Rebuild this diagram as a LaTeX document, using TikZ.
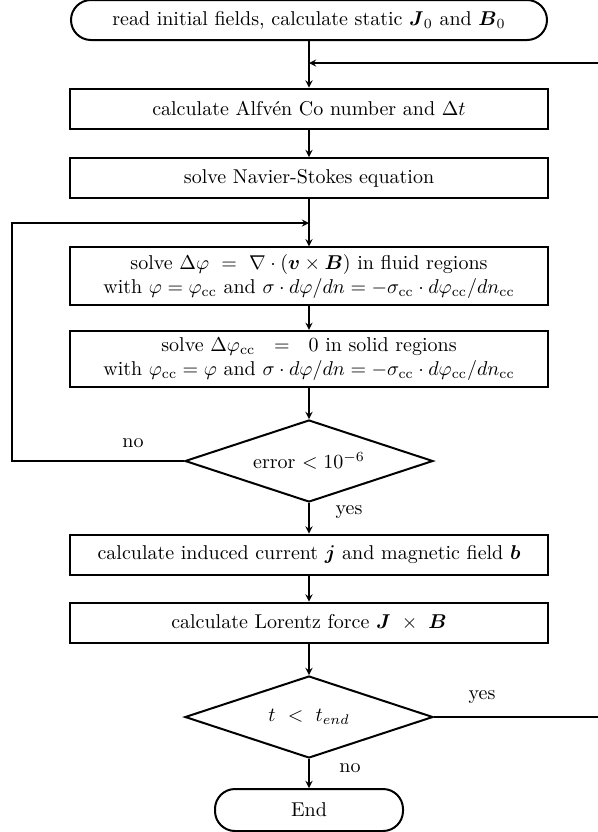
\documentclass[tikz,border=0pt]{standalone}
\usepackage{amsmath}
\usepackage{amsfonts}
\usetikzlibrary{shapes.geometric}

\begin{document}
\begin{tikzpicture}[x=0.5pt, y=-0.5pt, >=stealth, % 座標はピクセル単位、y軸は下向き
  box/.style={draw, line width=1pt, rectangle, minimum width=239pt, minimum height=20pt, align=center}, % 処理
  term/.style={draw, line width=1pt, rectangle, rounded corners=10pt, minimum height=20pt}, % 開始・終了
  dec/.style={draw, line width=1pt, diamond, aspect=3, minimum width=124pt, minimum height=41pt, inner sep=1pt}, % 判定
  line/.style={semithick}]
  \useasboundingbox (0,0) rectangle (598,832); % 余白込みの大きさ

  \node[term, minimum width=238pt] (start) at (309,20) {read initial fields, calculate static $\boldsymbol{J}_0$ and $\boldsymbol{B}_0$};
  \node[box] (alfven) at (309,108.5) {calculate Alfv\'en Co number and $\Delta t$};
  \node[box] (ns) at (309,178) {solve Navier-Stokes equation};
  \node[box] (fluid) at (309,276) {solve $\Delta\varphi\ =\ \nabla\cdot(\boldsymbol{v}\times\boldsymbol{B})$ in fluid regions\\
    with $\varphi=\varphi_{\mathrm{cc}}$ and $\sigma\cdot d\varphi/dn=-\sigma_{\mathrm{cc}}\cdot d\varphi_{\mathrm{cc}}/dn_{\mathrm{cc}}$};
  \node[box] (solid) at (309,359) {solve $\Delta\varphi_{\mathrm{cc}}\ \ =\ \ 0$ in solid regions\\
    with $\varphi_{\mathrm{cc}}=\varphi$ and $\sigma\cdot d\varphi/dn=-\sigma_{\mathrm{cc}}\cdot d\varphi_{\mathrm{cc}}/dn_{\mathrm{cc}}$};
  \node[dec] (err) at (309,461) {error $<10^{-6}$};
  \node[box] (induced) at (309,554.5) {calculate induced current $\boldsymbol{j}$ and magnetic field $\boldsymbol{b}$};
  \node[box] (lorentz) at (309,622.5) {calculate Lorentz force $\boldsymbol{J}\ \times\ \boldsymbol{B}$};
  \node[dec] (tend) at (309,717) {$t\ <\ t_{end}$};
  \node[term, minimum width=94pt, minimum height=21pt] (end) at (309,810) {End};

  \coordinate (back) at (309,63); % 時間ループの戻り先
  \coordinate (loop) at (309,223); % 反復ループの戻り先

  \draw[line, ->] (start) -- (alfven);
  \draw[line, ->] (alfven) -- (ns);
  \draw[line, ->] (ns) -- (fluid);
  \draw[line, ->] (fluid) -- (solid);
  \draw[line, ->] (solid) -- (err);
  \draw[line, ->] (err) -- (induced);
  \draw[line, ->] (induced) -- (lorentz);
  \draw[line, ->] (lorentz) -- (tend);
  \draw[line, ->] (tend) -- (end);
  \draw[line, ->] (err.west) -- (12,461) |- (loop); % no
  \draw[line, ->] (tend.east) -- (602,717) |- (back); % yes、縦線は枠の外

  \node (no1) at (133,443) {no};
  \node (yes1) at (349,512) {yes};
  \node (yes2) at (482,697) {yes};
  \node (no2) at (350,768) {no};
\end{tikzpicture}
\end{document}
